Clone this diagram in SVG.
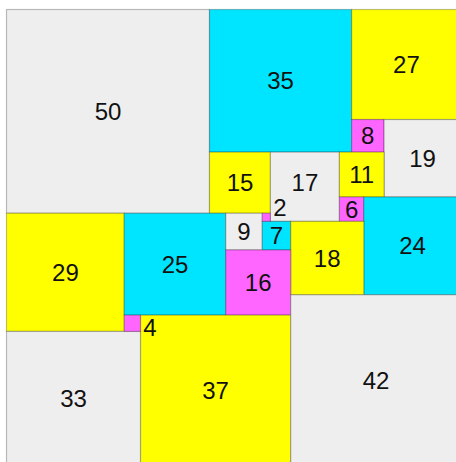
<svg xmlns="http://www.w3.org/2000/svg" width="456" height="462" viewBox="0 0 456 462">
<style>
.sq rect{stroke:#000;stroke-opacity:0.25;stroke-width:1.2}
.g{fill:#eeeeee}.c{fill:#00e5ff}.y{fill:#ffff00}.m{fill:#ff66ff}
text{font-family:"Liberation Sans",Arial,sans-serif;font-size:24px;fill:#111;text-anchor:middle}
</style>
<rect width="456" height="462" fill="#ffffff"/>
<g class="sq">
<g id="s50"><rect class="g" x="6.5" y="9.5" width="203" height="203.75"/><text x="108" y="119.8">50</text></g>
<g id="s35"><rect class="c" x="209.5" y="9.5" width="142.1" height="142.63"/><text x="280.6" y="89.2">35</text></g>
<g id="s27"><rect class="y" x="351.6" y="9.5" width="109.62" height="110.03"/><text x="406.4" y="72.9">27</text></g>
<g id="s8"><rect class="m" x="351.6" y="119.53" width="32.48" height="32.6"/><text x="367.8" y="144.2">8</text></g>
<g id="s19"><rect class="g" x="384.08" y="119.53" width="77.14" height="77.42"/><text x="422.6" y="166.6">19</text></g>
<g id="s15"><rect class="y" x="209.5" y="152.13" width="60.9" height="61.12"/><text x="240" y="191.1">15</text></g>
<g id="s17"><rect class="g" x="270.4" y="152.13" width="69.02" height="69.27"/><text x="304.9" y="191.2">17</text></g>
<g id="s11"><rect class="y" x="339.42" y="152.13" width="44.66" height="44.82"/><text x="361.7" y="182.9">11</text></g>
<g id="s6"><rect class="m" x="339.42" y="196.95" width="24.36" height="24.45"/><text x="351.6" y="217.6">6</text></g>
<g id="s24"><rect class="c" x="363.78" y="196.95" width="97.44" height="97.8"/><text x="412.5" y="254.3">24</text></g>
<g id="s29"><rect class="y" x="6.5" y="213.25" width="117.74" height="118.18"/><text x="65.4" y="280.7">29</text></g>
<g id="s25"><rect class="c" x="124.24" y="213.25" width="101.5" height="101.88"/><text x="175" y="272.6">25</text></g>
<g id="s9"><rect class="g" x="225.74" y="213.25" width="36.54" height="36.68"/><text x="244" y="240">9</text></g>
<g id="s7"><rect class="c" x="262.28" y="221.4" width="28.42" height="28.53"/><text x="276.5" y="244.1">7</text></g>
<g id="s18"><rect class="y" x="290.7" y="221.4" width="73.08" height="73.35"/><text x="327.2" y="266.5">18</text></g>
<g id="s16"><rect class="m" x="225.74" y="249.93" width="64.96" height="65.2"/><text x="258.2" y="290.9">16</text></g>
<g id="s37"><rect class="y" x="140.48" y="315.13" width="150.22" height="150.78"/><text x="215.6" y="398.9">37</text></g>
<g id="s42"><rect class="g" x="290.7" y="294.75" width="170.52" height="171.15"/><text x="376" y="388.7">42</text></g>
<g id="s33"><rect class="g" x="6.5" y="331.43" width="133.98" height="134.47"/><text x="73.5" y="407.1">33</text></g>
<g id="s4"><rect class="m" x="124.24" y="315.13" width="16.24" height="16.3"/><text x="150" y="336.4">4</text></g>
<g id="s2"><rect class="m" x="262.28" y="213.25" width="8.12" height="8.15"/><text x="280" y="216.4">2</text></g>
</g>
<g id="connectors"/>
</svg>
